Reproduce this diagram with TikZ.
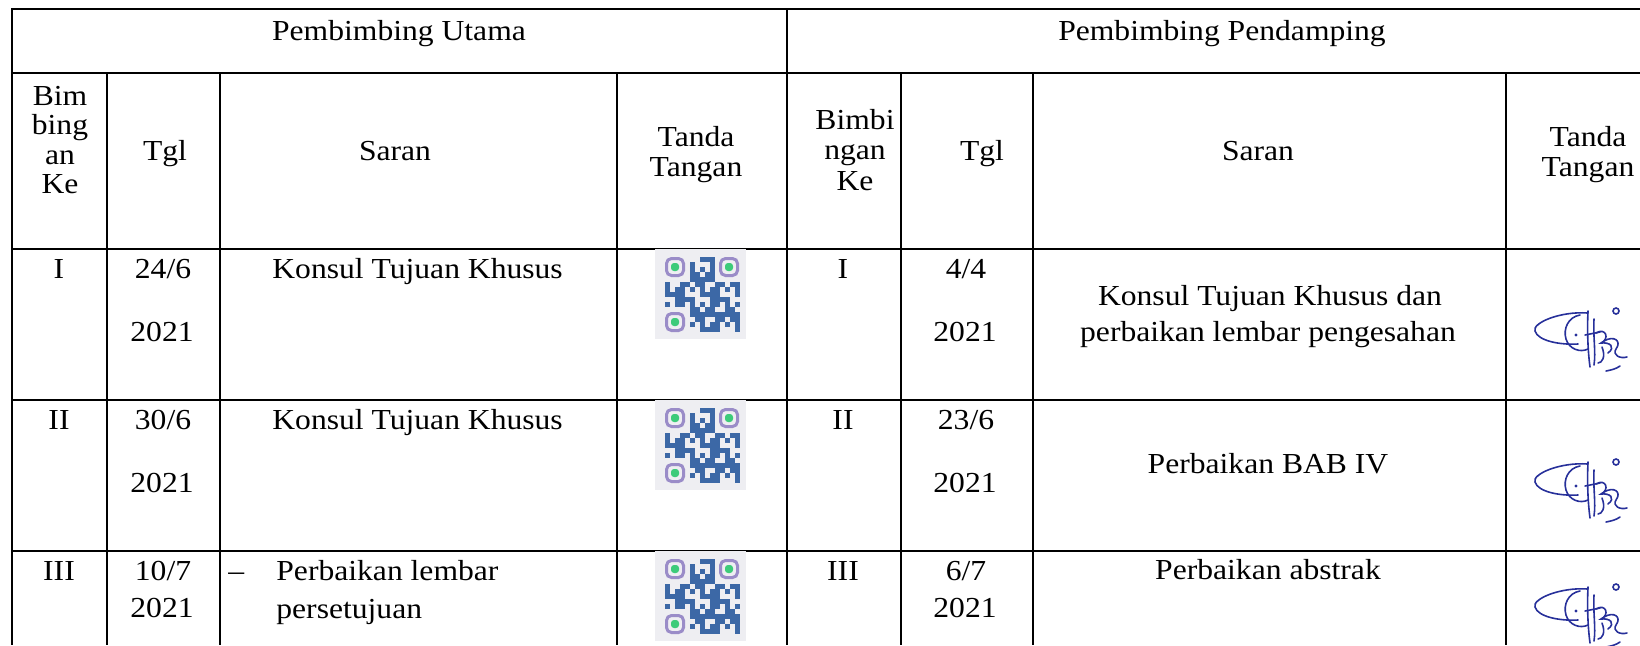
\documentclass[tikz,border=0pt]{standalone}
\usepackage{fontspec}
\setmainfont{Liberation Serif}[FakeStretch=1.09]
\definecolor{qrbg}{HTML}{EEEEF2}
\definecolor{qrblue}{HTML}{3C68A6}
\definecolor{qrpurple}{HTML}{9A8CC8}
\definecolor{qrgreen}{HTML}{3DCB7A}
\definecolor{sigblue}{HTML}{27309A}
\tikzset{
	rule/.style={line width=1.1pt},
	txt/.style={anchor=base, inner sep=0pt, font=\fontsize{14.5pt}{15.5pt}\selectfont},
	txtl/.style={txt, anchor=base west},
	sig/.style={draw=sigblue, line width=0.8pt, line cap=round}
}
\def\qrcode(#1,#2){
	\begin{scope}[shift={(#1,#2)}]
		\fill[qrbg] (0,0) rectangle (91,90);
		\foreach \i in {0,...,14}{
			\foreach \j in {0,...,14}{
				\pgfmathtruncatemacro\qrskip{(\i<5 && \j<5) || (\i>9 && \j<5) || (\i<5 && \j>9)}
				\pgfmathtruncatemacro\qrbit{mod(\i*\i*7+\j*\j*3+\i*\j*5+\i+2*\j,7)}
				\ifnum\qrskip=0 \ifnum\qrbit<4 \fill[qrblue] ({10+5*\i},{8+5*\j}) rectangle +(5,5); \fi\fi
			}}
		\foreach \fx/\fy in {10/8,64/8,10/63}{
			\draw[draw=qrpurple, line width=1.5pt, rounded corners=2.5pt] (\fx+1.5,\fy+1.5) rectangle +(17,17);
			\fill[qrgreen, rounded corners=1.5pt] (\fx+6,\fy+6) rectangle +(8,8);
		}
	\end{scope}}
\def\signature(#1,#2){
	\begin{scope}[shift={(#1,#2)}]
		\draw[sig] (58,16) .. controls (30,14) and (2,26) .. (5,34) .. controls (8,44) and (30,48) .. (48,47);
		\draw[sig] (50,18) .. controls (38,20) and (33,32) .. (36,42) .. controls (39,52) and (50,56) .. (58,52);
		\draw[sig] (58,14) .. controls (57,35) and (58,55) .. (60,70);
		\draw[sig] (64,22) .. controls (63,40) and (66,55) .. (64,68);
		\draw[sig] (55,38) -- (70,35);
		\draw[sig] (66,36) .. controls (76,30) and (80,42) .. (71,46) .. controls (80,45) and (86,50) .. (78,56);
		\draw[sig] (74,44) .. controls (84,38) and (92,44) .. (86,52) .. controls (82,58) and (90,62) .. (97,60);
		\draw[sig] (72,50) .. controls (76,60) and (72,66) .. (68,66);
		\draw[sig] (86,14) circle (1.5pt);
		\fill[sigblue] (46,38) circle (0.8pt);
		\draw[sig] (76,74) .. controls (81,73) and (86,72) .. (90,69);
	\end{scope}}

\begin{document}
\begin{tikzpicture}[x=0.5pt, y=-0.5pt]
			%%%%% FRAME %%%%%
			\useasboundingbox (0,0) rectangle (1640,645);
			
			\draw[rule] (1640,9) -- (12,9) -- (12,645);
			\draw[rule] (12,73) -- (1640,73);
			\draw[rule] (787,9) -- (787,645);
			
			\draw[rule] (107,73) -- (107,645);
			\draw[rule] (220,73) -- (220,645);
			\draw[rule] (617,73) -- (617,645);
			\draw[rule] (901,73) -- (901,645);
			\draw[rule] (1033,73) -- (1033,645);
			\draw[rule] (1506,73) -- (1506,645);
			
			\draw[rule] (12,249) -- (1640,249);
			\draw[rule] (12,400) -- (1640,400);
			\draw[rule] (12,551) -- (1640,551);
			
			%%%%% HEADER %%%%%
			\node[txt] (utama) at (399,40) {Pembimbing Utama};
			\node[txt] (pendamping) at (1222,40) {Pembimbing Pendamping};
			
			\node[txt] (keA1) at (60,105) {Bim};
			\node[txt] (keA2) at (60,134) {bing};
			\node[txt] (keA3) at (60,164) {an};
			\node[txt] (keA4) at (60,193) {Ke};
			\node[txt] (tglA) at (165,160) {Tgl};
			\node[txt] (saranA) at (395,160) {Saran};
			\node[txt] (ttdA1) at (696,146) {Tanda};
			\node[txt] (ttdA2) at (696,176) {Tangan};
			
			\node[txt] (keB1) at (855,129) {Bimbi};
			\node[txt] (keB2) at (855,159) {ngan};
			\node[txt] (keB3) at (855,190) {Ke};
			\node[txt] (tglB) at (982,160) {Tgl};
			\node[txt] (saranB) at (1258,160) {Saran};
			\node[txt] (ttdB1) at (1588,146) {Tanda};
			\node[txt] (ttdB2) at (1588,176) {Tangan};
			
			%%%%% ROW I %%%%%
			\node[txt] (noA1) at (59,278) {I};
			\node[txt] (dateA1) at (163,278) {24/6};
			\node[txt] (yearA1) at (162,341) {2021};
			\node[txtl] (noteA1) at (272,278) {Konsul Tujuan Khusus};
			\qrcode(655,249)
			
			\node[txt] (noB1) at (843,278) {I};
			\node[txt] (dateB1) at (966,278) {4/4};
			\node[txt] (yearB1) at (965,341) {2021};
			\node[txt] (noteB1a) at (1270,305) {Konsul Tujuan Khusus dan};
			\node[txt] (noteB1b) at (1268,341) {perbaikan lembar pengesahan};
			\signature(1530,297)
			
			%%%%% ROW II %%%%%
			\node[txt] (noA2) at (59,429) {II};
			\node[txt] (dateA2) at (163,429) {30/6};
			\node[txt] (yearA2) at (162,492) {2021};
			\node[txtl] (noteA2) at (272,429) {Konsul Tujuan Khusus};
			\qrcode(655,400)
			
			\node[txt] (noB2) at (843,429) {II};
			\node[txt] (dateB2) at (966,429) {23/6};
			\node[txt] (yearB2) at (965,492) {2021};
			\node[txt] (noteB2) at (1268,473) {Perbaikan BAB IV};
			\signature(1530,448)
			
			%%%%% ROW III %%%%%
			\node[txt] (noA3) at (59,580) {III};
			\node[txt] (dateA3) at (163,580) {10/7};
			\node[txt] (yearA3) at (162,617) {2021};
			\node[txtl] (dashA3) at (228,580) {--};
			\node[txtl] (noteA3a) at (276,580) {Perbaikan lembar};
			\node[txtl] (noteA3b) at (276,618) {persetujuan};
			\qrcode(655,551)
			
			\node[txt] (noB3) at (843,580) {III};
			\node[txt] (dateB3) at (966,580) {6/7};
			\node[txt] (yearB3) at (965,617) {2021};
			\node[txt] (noteB3) at (1268,579) {Perbaikan abstrak};
			\signature(1530,573)
			
			%%%%% END %%%%%
\end{tikzpicture}
\end{document}
